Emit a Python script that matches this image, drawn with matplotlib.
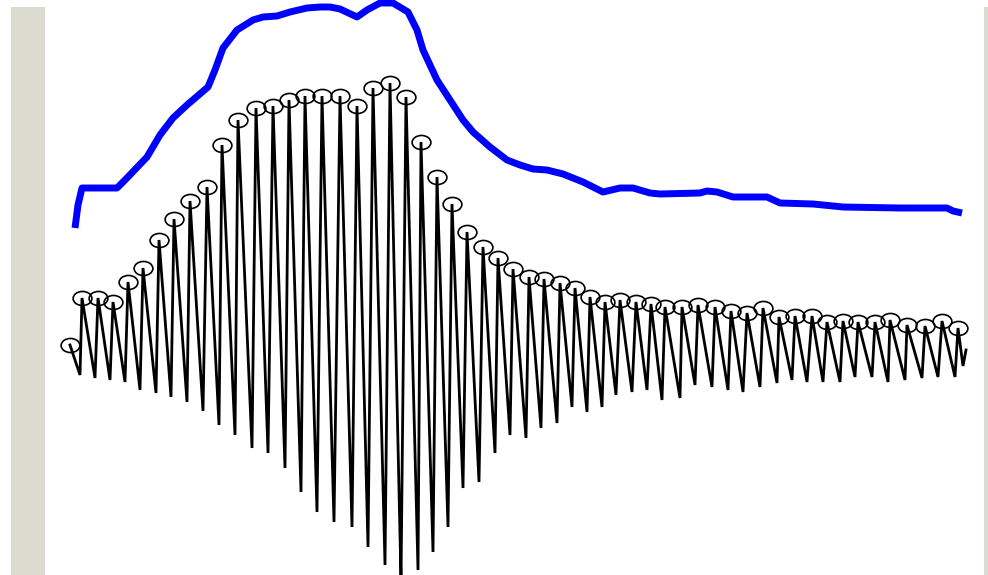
import numpy as np
import matplotlib
matplotlib.use('Agg')
from matplotlib import pyplot as plt
from matplotlib.path import Path
from matplotlib.transforms import Affine2D
from matplotlib.patches import Rectangle

# blue envelope (pixel coordinates, y downwards)
env_x = [75, 78, 82, 117, 125, 147, 160, 173, 187, 208, 215, 223, 237, 253, 263,
         277, 290, 307, 320, 330, 340, 357, 367, 380, 393, 408, 417, 423, 437, 450,
         463, 473, 490, 507, 520, 533, 547, 563, 583, 603, 620, 633, 650, 660, 700,
         707, 717, 733, 767, 780, 813, 843, 900, 947, 953, 962]
env_y = [228, 205, 188, 188, 180, 157, 135, 118, 105, 87, 70, 48, 30, 20, 17,
         16, 12, 8, 7, 7, 9, 17, 10, 3, 3, 12, 30, 50, 80, 100,
         120, 132, 147, 160, 165, 169, 170, 174, 182, 192, 188, 188, 193, 194, 193,
         191, 192, 197, 197, 203, 204, 207, 208, 208, 211, 213]

# pulse peaks (circle markers)
peak_x = [70, 82, 98, 113, 128, 143, 159, 174, 190, 207, 222, 238, 256, 273, 289,
          305, 322, 340, 357, 373, 390, 406, 421, 437, 452, 467, 483, 498, 513, 529,
          544, 560, 575, 590, 605, 620, 636, 651, 665, 682, 698, 715, 731, 747, 763,
          779, 795, 812, 827, 843, 858, 875, 890, 907, 925, 942, 958]
peak_y = [345, 298, 298, 302, 282, 268, 240, 219, 201, 187, 145, 120, 108, 106, 100,
          96, 96, 96, 106, 88, 83, 97, 142, 177, 204, 232, 247, 258, 269, 277,
          279, 283, 288, 297, 302, 300, 302, 304, 307, 307, 305, 307, 311, 313, 308,
          317, 316, 316, 322, 321, 322, 322, 320, 325, 326, 321, 328]

# troughs after each peak (the last one is the tail end)
trough_x = [80, 95, 110, 125, 140, 156, 171, 187, 203, 219, 235, 252, 268, 285, 301,
            317, 334, 352, 368, 385, 401, 418, 433, 448, 463, 479, 495, 510, 526, 541,
            557, 572, 587, 602, 616, 632, 647, 662, 680, 695, 712, 728, 743, 760, 777,
            792, 807, 823, 840, 855, 872, 888, 905, 922, 938, 955, 963]
trough_y = [375, 378, 380, 382, 390, 393, 397, 402, 411, 425, 435, 448, 453, 468, 492,
            512, 522, 527, 547, 565, 580, 570, 552, 527, 488, 482, 453, 435, 438, 428,
            423, 407, 412, 407, 395, 392, 390, 400, 398, 385, 387, 390, 392, 387, 383,
            380, 382, 382, 382, 377, 377, 382, 380, 378, 377, 377, 366]
tail_x, tail_y = 966, 350

W, H = 988, 575
fig = plt.figure(figsize=(W / 100, H / 100), dpi=100)
ax = fig.add_axes([0, 0, 1, 1])
ax.set_xlim(0, W)
ax.set_ylim(H, 0)
ax.axis('off')

# textured side strips of the page
strip = '#dcdbcf'
ax.add_patch(Rectangle((11, 7), 34, H - 7, color=strip, zorder=0, lw=0))
ax.add_patch(Rectangle((984, 7), 4, H - 7, color=strip, zorder=0, lw=0))

# pulse waveform: peak -> trough -> next peak ...
sig_x = np.ravel(np.column_stack([peak_x, trough_x])).tolist() + [tail_x]
sig_y = np.ravel(np.column_stack([peak_y, trough_y])).tolist() + [tail_y]
ax.plot(sig_x, sig_y, color='black', lw=2.0, solid_joinstyle='miter', zorder=2)

ellipse = Path.unit_circle().transformed(Affine2D().scale(1.0, 0.75))
ax.plot(peak_x, peak_y, ls='none', marker=ellipse, markersize=13.5,
        markerfacecolor='none', markeredgecolor='black', markeredgewidth=1.2, zorder=3)

ax.plot(env_x, env_y, color='#0000ff', lw=5.0, solid_capstyle='butt',
        solid_joinstyle='round', zorder=4)

plt.savefig('out.png', dpi=100)
